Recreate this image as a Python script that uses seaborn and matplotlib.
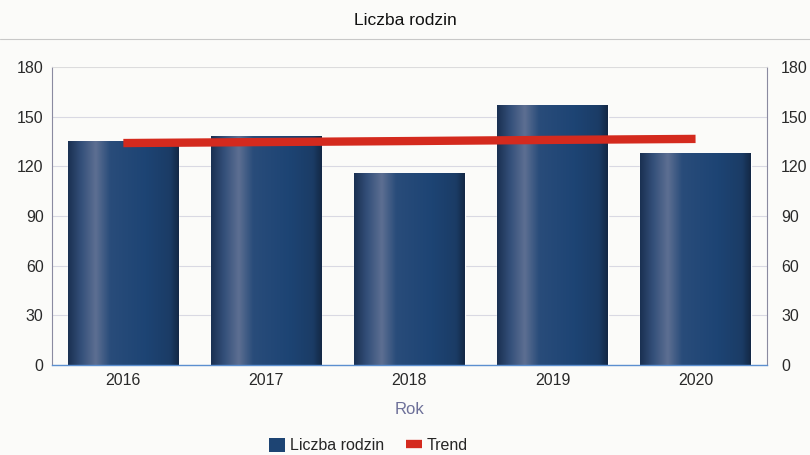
import numpy as np
import pandas as pd
import matplotlib.pyplot as plt
import matplotlib.lines as mlines
import matplotlib.patches as mpatches
from matplotlib.colors import LinearSegmentedColormap
import seaborn as sns

lata = ['2016', '2017', '2018', '2019', '2020']
liczba_rodzin = [135, 138, 116, 157, 128]
trend = [134, 134.6, 135.2, 135.9, 136.5]

sns.set_style('white')
plt.rcParams['font.family'] = ['Liberation Sans', 'DejaVu Sans']

df = pd.DataFrame({'Rok': lata, 'Liczba rodzin': liczba_rodzin, 'Trend': trend})

fig = plt.figure(figsize=(8.1, 4.55), dpi=100)
fig.patch.set_facecolor('#fbfbf9')
ax = fig.add_axes([0.064, 0.198, 0.883, 0.655])
ax.set_facecolor('#fbfbf9')

sns.barplot(data=df, x='Rok', y='Liczba rodzin', color='#1d4473', width=0.77,
            saturation=1, ax=ax, zorder=2)

# cylindryczny gradient na słupkach
grad = LinearSegmentedColormap.from_list('cyl', [
    (0.0, '#1a3052'), (0.12, '#34507a'), (0.25, '#5d6f92'), (0.38, '#294c7a'),
    (0.7, '#1d4474'), (0.92, '#1b3c66'), (1.0, '#132845')])
row = np.linspace(0, 1, 256).reshape(1, -1)
for p in ax.patches:
    x0, y0 = p.get_x(), p.get_y()
    w, h = p.get_width(), p.get_height()
    im = ax.imshow(row, cmap=grad, aspect='auto', extent=[x0, x0 + w, y0, y0 + h],
                   zorder=2.5, interpolation='bicubic')
    im.set_clip_path(p)

ax.plot(range(len(lata)), df['Trend'], color='#d42a1e', linewidth=6,
        solid_capstyle='butt', zorder=3)

ax.set_xlim(-0.5, len(lata) - 0.5)
ax.set_ylim(0, 180)
ax.set_yticks(range(0, 181, 30))
ax.yaxis.grid(True, color='#d9d9e3', linewidth=0.8, zorder=0)
ax.set_axisbelow(True)
ax.tick_params(axis='both', labelsize=11.5, colors='#2a2a2a', length=0, pad=6)
ax.set_xlabel('Rok', fontsize=12, color='#6d7099', labelpad=10)
ax.set_ylabel('')

for s in ['left', 'right']:
    ax.spines[s].set_color('#8a8aa0')
    ax.spines[s].set_linewidth(0.8)
ax.spines['top'].set_color('#dddddd')
ax.spines['top'].set_linewidth(0.6)
ax.spines['bottom'].set_color('#5b8fd0')
ax.spines['bottom'].set_linewidth(1.0)

ax2 = ax.twinx()
ax2.set_ylim(0, 180)
ax2.set_yticks(range(0, 181, 30))
ax2.tick_params(axis='y', labelsize=11.5, colors='#2a2a2a', length=0, pad=10)
for s in ax2.spines.values():
    s.set_visible(False)

fig.text(0.5, 0.955, 'Liczba rodzin', ha='center', va='center', fontsize=12.5, color='#111111')
fig.add_artist(mlines.Line2D([0, 1], [0.915, 0.915], color='#c8c8c8', linewidth=0.8))

h_bar = mpatches.Patch(facecolor='#1d4473', edgecolor='none')
h_trend = mlines.Line2D([], [], color='#d42a1e', linewidth=6, solid_capstyle='butt')
fig.legend([h_bar, h_trend], ['Liczba rodzin', 'Trend'], loc='center',
           bbox_to_anchor=(0.455, 0.02), ncol=2, frameon=False, fontsize=11.5,
           handlelength=1.0, handleheight=0.9, handletextpad=0.3, columnspacing=1.4)

fig.savefig('out.png', dpi=100, facecolor=fig.get_facecolor())
